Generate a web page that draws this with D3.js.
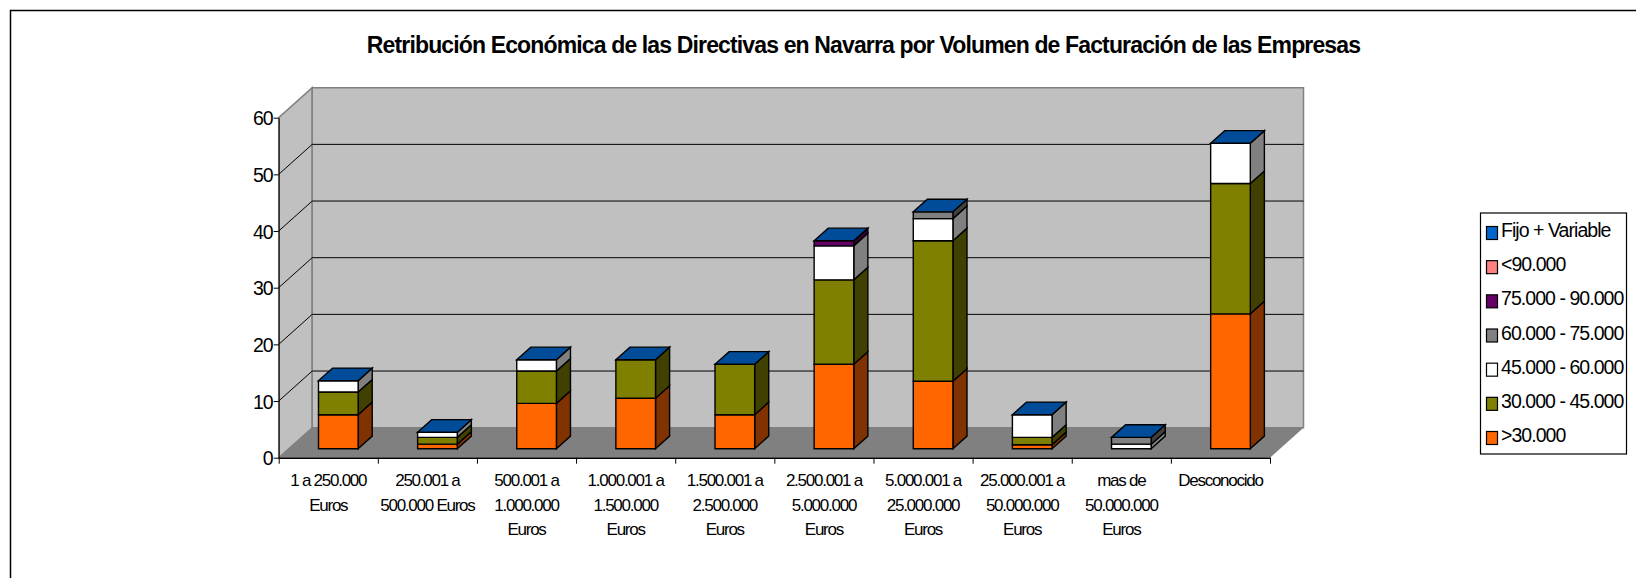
<!doctype html>
<html>
<head>
	<meta charset="utf-8">
	<title>Retribución Económica</title>
	<style>

		html, body {
			margin: 0;
			background: #fff;
		}

		svg {
			display: block;
			font-family: "Liberation Sans", Arial, sans-serif;
			fill: #000;
		}

		.title {
			font-size: 23px;
			font-weight: bold;
			letter-spacing: -0.86px;
			text-anchor: middle;
		}

		.y-axis text {
			font-size: 19.5px;
			letter-spacing: -1px;
			font-family: "Liberation Sans", Arial, sans-serif;
			fill: #000;
		}

		.cat-label {
			font-size: 17px;
			letter-spacing: -1.25px;
			text-anchor: middle;
		}

		.legend-label {
			font-size: 19.5px;
			letter-spacing: -0.95px;
		}

		.face {
			stroke: #000;
			stroke-width: 1.4;
			stroke-linejoin: miter;
		}

	</style>
</head>
<body>

	<svg width="1636" height="578"></svg>

	<script src="https://cdn.jsdelivr.net/npm/d3@7"></script>
	<script>

		const title = "Retribución Económica de las Directivas en Navarra por Volumen de Facturación de las Empresas";

		const categories = [
			"1 a 250.000|Euros",
			"250.001 a|500.000 Euros",
			"500.001 a|1.000.000|Euros",
			"1.000.001 a|1.500.000|Euros",
			"1.500.001 a|2.500.000|Euros",
			"2.500.001 a|5.000.000|Euros",
			"5.000.001 a|25.000.000|Euros",
			"25.000.001 a|50.000.000|Euros",
			"mas de|50.000.000|Euros",
			"Desconocido"
		];

		// bottom to top, same order as the stack
		const seriesNames = [ ">30.000", "30.000 - 45.000", "45.000 - 60.000", "60.000 - 75.000", "75.000 - 90.000", "<90.000", "Fijo + Variable" ];

		const under30 = [ 6, 0.8, 8, 8.9, 6, 14.9, 11.9, 0.7, 0, 23.8 ];
		const from30 = [ 4, 1.2, 5.7, 6.8, 8.9, 14.9, 24.8, 1.3, 0, 23 ];
		const from45 = [ 2, 0.9, 2, 0, 0, 6, 3.9, 4, 0.8, 7.1 ];
		const from60 = [ 0, 0, 0, 0, 0, 0, 1.2, 0, 1.2, 0 ];
		const from75 = [ 0, 0, 0, 0, 0, 0.9, 0, 0, 0, 0 ];
		const over90 = [ 0, 0, 0, 0, 0, 0, 0, 0, 0, 0 ];
		const fixedVariable = [ 0, 0, 0, 0, 0, 0, 0, 0, 0, 0 ];

		const seriesValues = [ under30, from30, from45, from60, from75, over90, fixedVariable ];

		const frontColors = [ "#ff6600", "#808000", "#ffffff", "#808080", "#660066", "#ff8080", "#0066cc" ];
		const sideColors = [ "#803300", "#404000", "#808080", "#404040", "#330033", "#804040", "#003366" ];
		const topColor = "#004c99";

		const yTicks = [ 0, 10, 20, 30, 40, 50, 60 ];

		const svg = d3.select( "svg" );

		// plot box, measured on the picture
		const plotLeft = 278.7, plotRight = 1270,
			plotBottom = 457.7, plotTop = 117.7;

		const y = d3.scaleLinear().domain( [ 0, 60 ] ).range( [ plotBottom, plotTop ] );
		const x = d3.scaleBand().domain( categories ).range( [ plotLeft, plotRight ] ).paddingInner( 0.6 ).paddingOuter( 0.3 );
		const edges = d3.scaleLinear().domain( [ 0, categories.length ] ).range( [ plotLeft, plotRight ] );

		// oblique depth of the 3d box
		const depthX = d3.scaleLinear().domain( [ 0, 1 ] ).range( [ 0, 33.5 ] );
		const depthY = d3.scaleLinear().domain( [ 0, 1 ] ).range( [ 0, -30 ] );
		const barFront = 0.3, barBack = 0.72;

		const pt = ( px, py, z ) => [ px + depthX( z ), py + depthY( z ) ];
		const poly = d3.line();

		function drawBox() {
			const wall = svg.append( "g" );

			// left wall
			wall.append( "path" )
				.attr( "d", poly( [ pt( plotLeft, plotBottom, 0 ), pt( plotLeft, plotTop, 0 ), pt( plotLeft, plotTop, 1 ), pt( plotLeft, plotBottom, 1 ) ] ) + "Z" )
				.attr( "fill", "#c0c0c0" )
				.attr( "stroke", "#808080" )
				.attr( "stroke-width", 1.5 );

			// back wall
			wall.append( "path" )
				.attr( "d", poly( [ pt( plotLeft, plotBottom, 1 ), pt( plotLeft, plotTop, 1 ), pt( plotRight, plotTop, 1 ), pt( plotRight, plotBottom, 1 ) ] ) + "Z" )
				.attr( "fill", "#c0c0c0" )
				.attr( "stroke", "#808080" )
				.attr( "stroke-width", 1.5 );

			// floor
			wall.append( "path" )
				.attr( "d", poly( [ pt( plotLeft, plotBottom, 0 ), pt( plotLeft, plotBottom, 1 ), pt( plotRight, plotBottom, 1 ), pt( plotRight, plotBottom, 0 ) ] ) + "Z" )
				.attr( "fill", "#808080" );

			// gridlines on both walls
			wall.selectAll( ".grid" )
				.data( yTicks.slice( 1, -1 ) )
				.enter().append( "path" )
					.attr( "class", "grid" )
					.attr( "fill", "none" )
					.attr( "stroke", "#000" )
					.attr( "stroke-width", 1 )
					.attr( "d", d => poly( [ pt( plotLeft, y( d ), 0 ), pt( plotLeft, y( d ), 1 ), pt( plotRight, y( d ), 1 ) ] ) );
		}

		function drawBars() {
			const rows = categories.map( ( c, i ) => {
				const row = { category: c };
				seriesNames.forEach( ( s, j ) => { row[ s ] = seriesValues[ j ][ i ]; } );
				return row;
			});

			const stacked = d3.stack().keys( seriesNames )( rows );

			stacked.forEach( ( layer, j ) => {
				const g = svg.append( "g" ).attr( "class", "layer" );

				// nothing to see for empty segments, except the last series which gives the lid
				const segs = layer.filter( d => d[1] > d[0] );

				g.selectAll( ".side" )
					.data( segs )
					.enter().append( "path" )
						.attr( "class", "face side" )
						.attr( "fill", sideColors[ j ] )
						.attr( "d", d => {
							const xr = x( d.data.category ) + x.bandwidth();
							return poly( [
								pt( xr, y( d[0] ), barFront ), pt( xr, y( d[1] ), barFront ),
								pt( xr, y( d[1] ), barBack ), pt( xr, y( d[0] ), barBack )
							] ) + "Z";
						});

				g.selectAll( ".front" )
					.data( segs )
					.enter().append( "path" )
						.attr( "class", "face front" )
						.attr( "fill", frontColors[ j ] )
						.attr( "d", d => {
							const xl = x( d.data.category ), xr = xl + x.bandwidth();
							return poly( [
								pt( xl, y( d[0] ), barFront ), pt( xl, y( d[1] ), barFront ),
								pt( xr, y( d[1] ), barFront ), pt( xr, y( d[0] ), barFront )
							] ) + "Z";
						});

				if ( j === stacked.length - 1 ) {
					g.selectAll( ".lid" )
						.data( layer )
						.enter().append( "path" )
							.attr( "class", "face lid" )
							.attr( "fill", topColor )
							.attr( "d", d => {
								const xl = x( d.data.category ), xr = xl + x.bandwidth();
								return poly( [
									pt( xl, y( d[1] ), barFront ), pt( xl, y( d[1] ), barBack ),
									pt( xr, y( d[1] ), barBack ), pt( xr, y( d[1] ), barFront )
								] ) + "Z";
							});
				}
			});
		}

		function drawAxes() {
			svg.append( "g" )
				.attr( "class", "y-axis" )
				.attr( "transform", "translate(" + plotLeft + ",0)" )
				.call( d3.axisLeft( y ).tickValues( yTicks ).tickSize( 5 ).tickSizeOuter( 0 ).tickPadding( 1 ) );

			svg.select( ".y-axis" ).selectAll( "text" )
				.attr( "dy", "0.36em" );

			svg.append( "g" )
				.attr( "class", "x-axis" )
				.attr( "transform", "translate(0," + plotBottom + ")" )
				.call( d3.axisBottom( edges ).ticks( categories.length ).tickFormat( "" ).tickSize( 6 ).tickSizeOuter( 0 ) )
				.select( ".domain" )
					.attr( "stroke-width", 1.5 );

			const label = svg.selectAll( ".cat-label" )
				.data( categories )
				.enter().append( "text" )
					.attr( "class", "cat-label" );

			label.selectAll( "tspan" )
				.data( ( d, i ) => d.split( "|" ).map( t => ( { t: t, i: i } ) ) )
				.enter().append( "tspan" )
					.attr( "x", d => edges( d.i + 0.5 ) )
					.attr( "y", ( d, k ) => 486 + k * 24.5 )
					.text( d => d.t );
		}

		function drawLegend() {
			const lx = 1480.5, ly = 213, lw = 146, lh = 241;

			const g = svg.append( "g" );

			g.append( "rect" )
				.attr( "x", lx ).attr( "y", ly )
				.attr( "width", lw ).attr( "height", lh )
				.attr( "fill", "#fff" )
				.attr( "stroke", "#000" )
				.attr( "stroke-width", 1.2 );

			// legend reads top down, reverse of the stack
			const names = seriesNames.slice().reverse();
			const colors = frontColors.slice().reverse();

			const row = d3.scalePoint().domain( names ).range( [ ly + 19.5, ly + 224.5 ] );

			g.selectAll( "rect.swatch" )
				.data( names )
				.enter().append( "rect" )
					.attr( "class", "swatch" )
					.attr( "x", lx + 6 )
					.attr( "y", d => row( d ) - 6 )
					.attr( "width", 11 )
					.attr( "height", 13 )
					.attr( "fill", ( d, i ) => colors[ i ] )
					.attr( "stroke", "#000" )
					.attr( "stroke-width", 1.2 );

			g.selectAll( ".legend-label" )
				.data( names )
				.enter().append( "text" )
					.attr( "class", "legend-label" )
					.attr( "x", lx + 20.5 )
					.attr( "y", d => row( d ) + 4.5 )
					.text( d => d );
		}

		// chart frame, only top and left show
		svg.append( "path" )
			.attr( "d", "M10.5,578V10.5H1636" )
			.attr( "fill", "none" )
			.attr( "stroke", "#000" )
			.attr( "stroke-width", 1.5 );

		svg.append( "text" )
			.attr( "class", "title" )
			.attr( "x", 863.5 )
			.attr( "y", 53 )
			.text( title );

		drawBox();
		drawBars();
		drawAxes();
		drawLegend();

	</script>

</body>
</html>
